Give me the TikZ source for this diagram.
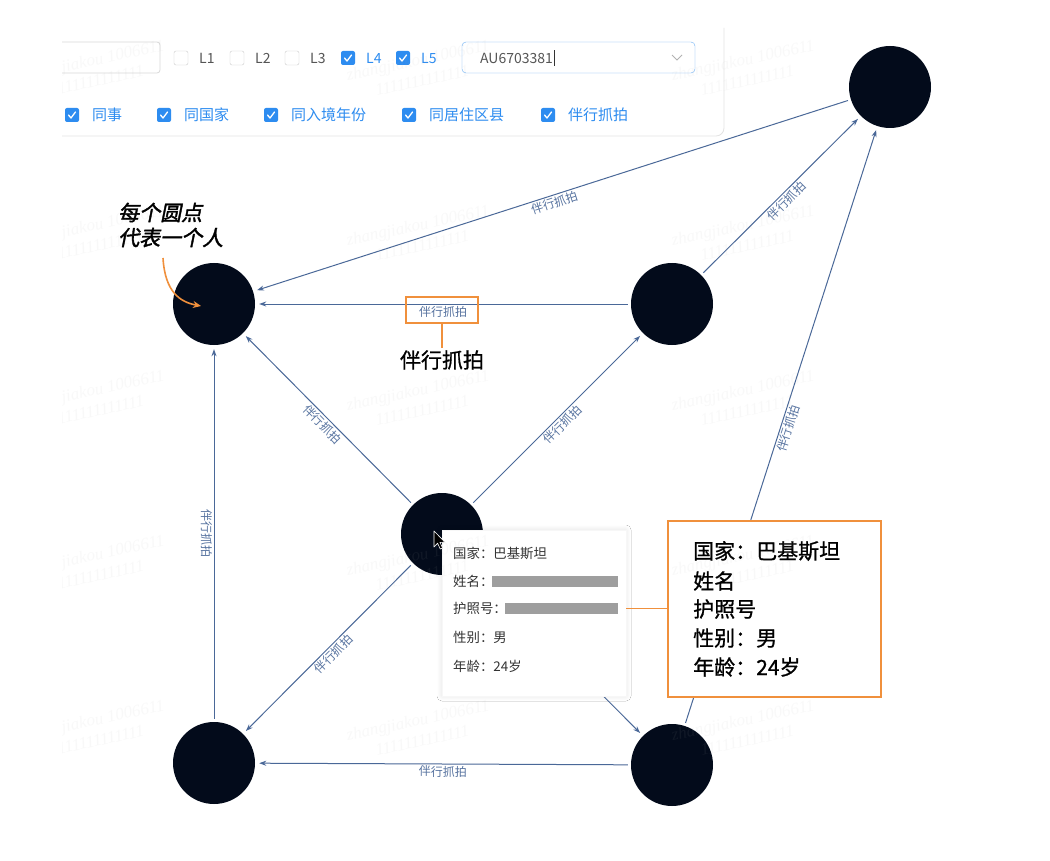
\documentclass[tikz,border=0pt]{standalone}
\usepackage{fontspec}
\setmainfont{Noto Sans CJK SC}
\newfontfamily\wmfont{Liberation Serif}
\newfontfamily\annofont[FakeSlant=0.2,FakeBold=1.8]{Noto Sans CJK SC}
\newfontfamily\medfont[FakeBold=0.9]{Noto Sans CJK SC}
\usetikzlibrary{arrows.meta,shadows.blur}
\definecolor{edgec}{HTML}{4A6898}
\definecolor{labc}{HTML}{56729F}
\definecolor{nodec}{HTML}{030B1B}
\definecolor{orng}{HTML}{F0903C}
\definecolor{uiblue}{HTML}{2D8CF0}
\definecolor{txtgray}{HTML}{555555}
\definecolor{tipgray}{HTML}{333333}
\definecolor{barc}{HTML}{9E9E9E}
\tikzset{
  person/.style={circle, fill=nodec, minimum size=82pt, inner sep=0pt},
  rel/.style={draw=edgec, line width=1pt, -{Stealth[length=7pt,width=5pt]}, shorten >=4pt, shorten <=3pt},
  elabel/.style={font=\fontsize{12}{12}\selectfont, text=labc, inner sep=1.5pt},
  cbox/.style={draw=gray!40, rounded corners=2pt, minimum size=14pt, inner sep=0pt},
  cboxon/.style={fill=uiblue, rounded corners=2pt, minimum size=14pt, inner sep=0pt},
  uilab/.style={font=\fontsize{14}{14}\selectfont, anchor=west, inner sep=0pt},
  uilab2/.style={font=\fontsize{15}{15}\selectfont, anchor=west, inner sep=0pt, text=uiblue},
  tiptext/.style={font=\fontsize{13.4}{13.4}\selectfont, text=tipgray, anchor=west, inner sep=0pt},
  infotext/.style={font=\medfont\fontsize{21}{21}\selectfont, anchor=west, inner sep=0pt},
  wmark/.style={font=\wmfont\itshape\fontsize{17}{21}\selectfont, text=gray!60, text opacity=0.08, rotate=12, align=center},
  chk/.pic={\node[cboxon] {}; \draw[white, line width=1.3pt, line cap=round, line join=round] (-3.5,0) -- (-1,3) -- (3.5,-3);},
  hl/.style={draw=orng, line width=1.6pt}
}
\begin{document}
\begin{tikzpicture}[x=1pt,y=-1pt]
\useasboundingbox[fill=white] (0,0) rectangle (1050,861);

% filter panel
\draw[gray!22, line width=0.8pt, rounded corners=8pt] (62,136) -- (724,136) -- (724,28);
\draw[gray!30, line width=0.8pt, rounded corners=3pt] (62,42) -- (160,42) -- (160,73) -- (62,73);
\node[cbox] (cb1) at (181,58) {};
\node[uilab, text=txtgray] (l1) at (199,58) {L1};
\node[cbox] (cb2) at (237,58) {};
\node[uilab, text=txtgray] (l2) at (255,58) {L2};
\node[cbox] (cb3) at (292,58) {};
\node[uilab, text=txtgray] (l3) at (310,58) {L3};
\pic at (348,58) {chk};
\node[uilab, text=uiblue] (l4) at (366,58) {L4};
\pic at (403,58) {chk};
\node[uilab, text=uiblue] (l5) at (421,58) {L5};
\node[draw=uiblue!70, rounded corners=4pt, minimum width=233pt, minimum height=31pt, inner sep=0pt] (sel) at (578.5,57.5) {};
\node[uilab, text=txtgray] (seltxt) at (480,58) {AU6703381};
\draw[black!80, line width=0.6pt] ([xshift=1pt,yshift=-8pt]seltxt.east) -- ([xshift=1pt,yshift=8pt]seltxt.east);
\draw[gray!60, line width=0.8pt] (672,55) -- (677,60) -- (682,55);

\pic at (72,115) {chk};
\node[uilab2] (f1) at (92,115) {同事};
\pic at (164,115) {chk};
\node[uilab2] (f2) at (184,115) {同国家};
\pic at (271,115) {chk};
\node[uilab2] (f3) at (291,115) {同入境年份};
\pic at (409,115) {chk};
\node[uilab2] (f4) at (429,115) {同居住区县};
\pic at (548,115) {chk};
\node[uilab2] (f5) at (568,115) {伴行抓拍};

% persons
\node[person] (tr) at (890,87) {};
\node[person] (ml) at (214,304) {};
\node[person] (mr) at (672,304) {};
\node[person] (c) at (442,534) {};
\node[person] (bl) at (214,763) {};
\node[person] (br) at (672,765) {};

% relations
\draw[rel] (tr) -- node[elabel, sloped, below] (e1) {伴行抓拍} (ml);
\draw[rel] (mr) -- node[elabel, sloped, below] (e2) {伴行抓拍} (ml);
\draw[rel] (c) -- node[elabel, sloped, below] (e3) {伴行抓拍} (ml);
\draw[rel] (c) -- node[elabel, sloped, below] (e4) {伴行抓拍} (mr);
\draw[rel] (mr) -- node[elabel, sloped, below] (e5) {伴行抓拍} (tr);
\draw[rel] (br) -- node[elabel, sloped, below] (e6) {伴行抓拍} (tr);
\draw[rel] (bl) -- node[elabel, rotate=-90, below] (e7) {伴行抓拍} (ml);
\draw[rel] (c) -- node[elabel, sloped, below] (e8) {伴行抓拍} (bl);
\draw[rel] (c) -- (br);
\draw[rel] (br) -- node[elabel, sloped, below] (e10) {伴行抓拍} (bl);

% highlight of the edge label
\node[hl, minimum width=72pt, minimum height=26pt, inner sep=0pt] (hlbox) at (442,310) {};
\node[font=\medfont\fontsize{21}{21}\selectfont, inner sep=2pt] (hltxt) at (442,360) {伴行抓拍};
\draw[orng, line width=1.6pt] (hlbox.south) -- (hltxt.north);

% annotation
\node[font=\annofont\fontsize{21}{25}\selectfont, align=left, anchor=west, inner sep=0pt] (anno) at (118,225) {每个圆点\\代表一个人};
\coordinate (annoStart) at (163,258);
\coordinate (annoEnd) at (201,306);
\draw[orng, line width=1.6pt, -{Stealth[length=8pt,width=7pt]}] (annoStart) .. controls (165,292) and (180,302) .. (annoEnd);

% tooltip
\node[fill=white, draw=gray!6, minimum width=184pt, minimum height=166pt, inner sep=0pt,
  blur shadow={shadow xshift=0pt, shadow yshift=0pt, shadow blur radius=5pt, shadow blur steps=10, shadow opacity=12}] (tip) at (534,613) {};
\node[tiptext] (t1) at (453,553) {国家：巴基斯坦};
\node[tiptext] (t2) at (453,581) {姓名：};
\node[tiptext] (t3) at (453,608) {护照号：};
\node[tiptext] (t4) at (453,637) {性别：男};
\node[tiptext] (t5) at (453,666) {年龄：24岁};
\fill[barc] (492,576) rectangle (618,587);
\fill[barc] (505,603) rectangle (618,614);

% cursor
\filldraw[fill=black, draw=white, line width=0.6pt, line join=round]
  (434,531) -- (434,547) -- (437.6,543.2) -- (440.2,549) -- (442.6,548) -- (440,542.4) -- (445,542.2) -- cycle;

% info box
\node[draw=orng, line width=2pt, fill=white, minimum width=213pt, minimum height=176pt, inner sep=0pt] (info) at (774,608.5) {};
\node[infotext] (i1) at (693,551) {国家：巴基斯坦};
\node[infotext] (i2) at (693,581) {姓名};
\node[infotext] (i3) at (693,609) {护照号};
\node[infotext] (i4) at (693,638) {性别：男};
\node[infotext] (i5) at (693,667) {年龄：24岁};
\draw[orng, line width=1.6pt] (tip.east |- info.west) -- (info.west);

% watermarks
\begin{scope}
\clip (62,0) rectangle (1000,861);
\foreach \x in {95,420,745} {
  \foreach \y in {70,235,400,565,730} {
    \node[wmark] at (\x,\y) {zhangjiakou 1006611\\1111111111111};
  }
}
\end{scope}
\end{tikzpicture}
\end{document}
